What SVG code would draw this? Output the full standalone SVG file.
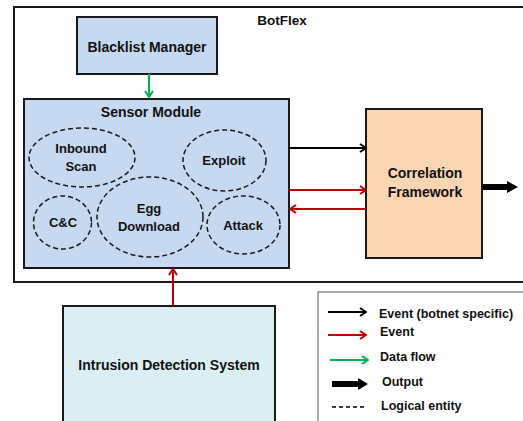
<svg xmlns="http://www.w3.org/2000/svg" width="523" height="421" viewBox="0 0 523 421">
<style>
text{font-family:"Liberation Sans",Arial,sans-serif;font-weight:bold;font-size:14px;fill:#111;text-anchor:middle}
.e{font-size:13px}
.lt{text-anchor:start;font-size:12.5px}
.box{stroke:#1a1a1a;stroke-width:2}
.ell{fill:none;stroke:#1a1a1a;stroke-width:1.5;stroke-dasharray:5,3}
.blk{stroke:#000;stroke-width:2;fill:none}
.red{stroke:#c00000;stroke-width:2;fill:none}
.grn{stroke:#00b050;stroke-width:2;fill:none}
</style>
<defs>
<marker id="ab" viewBox="0 0 10 10" refX="9" refY="5" markerWidth="10" markerHeight="10" markerUnits="userSpaceOnUse" orient="auto"><path d="M3,1 L9,5 L3,9" fill="none" stroke="#000" stroke-width="2"/></marker>
<marker id="ar" viewBox="0 0 10 10" refX="9" refY="5" markerWidth="10" markerHeight="10" markerUnits="userSpaceOnUse" orient="auto"><path d="M3,1 L9,5 L3,9" fill="none" stroke="#c00000" stroke-width="2"/></marker>
<marker id="ag" viewBox="0 0 10 10" refX="9" refY="5" markerWidth="10" markerHeight="10" markerUnits="userSpaceOnUse" orient="auto"><path d="M3,1 L9,5 L3,9" fill="none" stroke="#00b050" stroke-width="2"/></marker>
</defs>
<rect width="523" height="421" fill="#fff"/>
<g id="botflex">
<rect x="14" y="7" width="520" height="275" fill="none" class="box"/>
<text x="282" y="25" style="font-size:13.5px">BotFlex</text>
</g>
<g id="blacklist-manager">
<rect x="77" y="17" width="140" height="57" fill="#c6d9f1" class="box"/>
<text x="147" y="52">Blacklist Manager</text>
</g>
<g id="sensor-module">
<rect x="24" y="99" width="265" height="169" fill="#c6d9f1" class="box"/>
<text x="151" y="117">Sensor Module</text>
</g>
<g id="inbound-scan">
<ellipse cx="82" cy="157.5" rx="53" ry="29.5" class="ell"/>
<text class="e" x="81" y="153">Inbound</text>
<text class="e" x="81" y="171">Scan</text>
</g>
<g id="exploit">
<ellipse cx="224.5" cy="160.5" rx="41.5" ry="30.5" class="ell"/>
<text class="e" x="224" y="165">Exploit</text>
</g>
<g id="cc">
<ellipse cx="62.5" cy="222.5" rx="29" ry="26.5" class="ell"/>
<text class="e" x="63" y="227">C&amp;C</text>
</g>
<g id="egg-download">
<ellipse cx="150" cy="217" rx="53" ry="40" class="ell"/>
<text class="e" x="149" y="213">Egg</text>
<text class="e" x="149" y="231">Download</text>
</g>
<g id="attack">
<ellipse cx="243.5" cy="225" rx="36.5" ry="29" class="ell"/>
<text class="e" x="243" y="230">Attack</text>
</g>
<g id="correlation-framework">
<rect x="366" y="109" width="116" height="149" fill="#fcd5b5" class="box"/>
<text x="425" y="178">Correlation</text>
<text x="425" y="197">Framework</text>
</g>
<g id="ids">
<rect x="63" y="306" width="212" height="130" fill="#dbeef4" class="box"/>
<text x="169" y="370">Intrusion Detection System</text>
</g>
<g id="connectors">
<line x1="149" y1="74" x2="149" y2="97" class="grn" marker-end="url(#ag)"/>
<line x1="289" y1="148" x2="366" y2="148" class="blk" marker-end="url(#ab)"/>
<line x1="289" y1="190" x2="366" y2="190" class="red" marker-end="url(#ar)"/>
<line x1="366" y1="209" x2="290" y2="209" class="red" marker-end="url(#ar)"/>
<line x1="173" y1="306" x2="173" y2="269" class="red" marker-end="url(#ar)"/>
<line x1="483" y1="187" x2="509" y2="187" stroke="#000" stroke-width="6"/>
<path d="M507,181 L518,187 L507,193 Z" fill="#000"/>
</g>
<g id="legend">
<rect x="318" y="292" width="210" height="140" fill="#fff" stroke="#555" stroke-width="1"/>
<line x1="328" y1="312" x2="366" y2="312" class="blk" marker-end="url(#ab)"/>
<text x="379" y="318" class="lt">Event (botnet specific)</text>
<line x1="328" y1="335" x2="366" y2="335" class="red" marker-end="url(#ar)"/>
<text x="380" y="336" class="lt">Event</text>
<line x1="330" y1="360" x2="368" y2="360" class="grn" marker-end="url(#ag)"/>
<text x="380" y="361" class="lt">Data flow</text>
<line x1="332" y1="384" x2="360" y2="384" stroke="#000" stroke-width="6"/>
<path d="M358,378 L368,384 L358,390 Z" fill="#000"/>
<text x="382" y="386" class="lt">Output</text>
<line x1="332" y1="407" x2="366" y2="407" stroke="#000" stroke-width="1.5" stroke-dasharray="4,3"/>
<text x="381" y="410" class="lt">Logical entity</text>
</g>
</svg>
